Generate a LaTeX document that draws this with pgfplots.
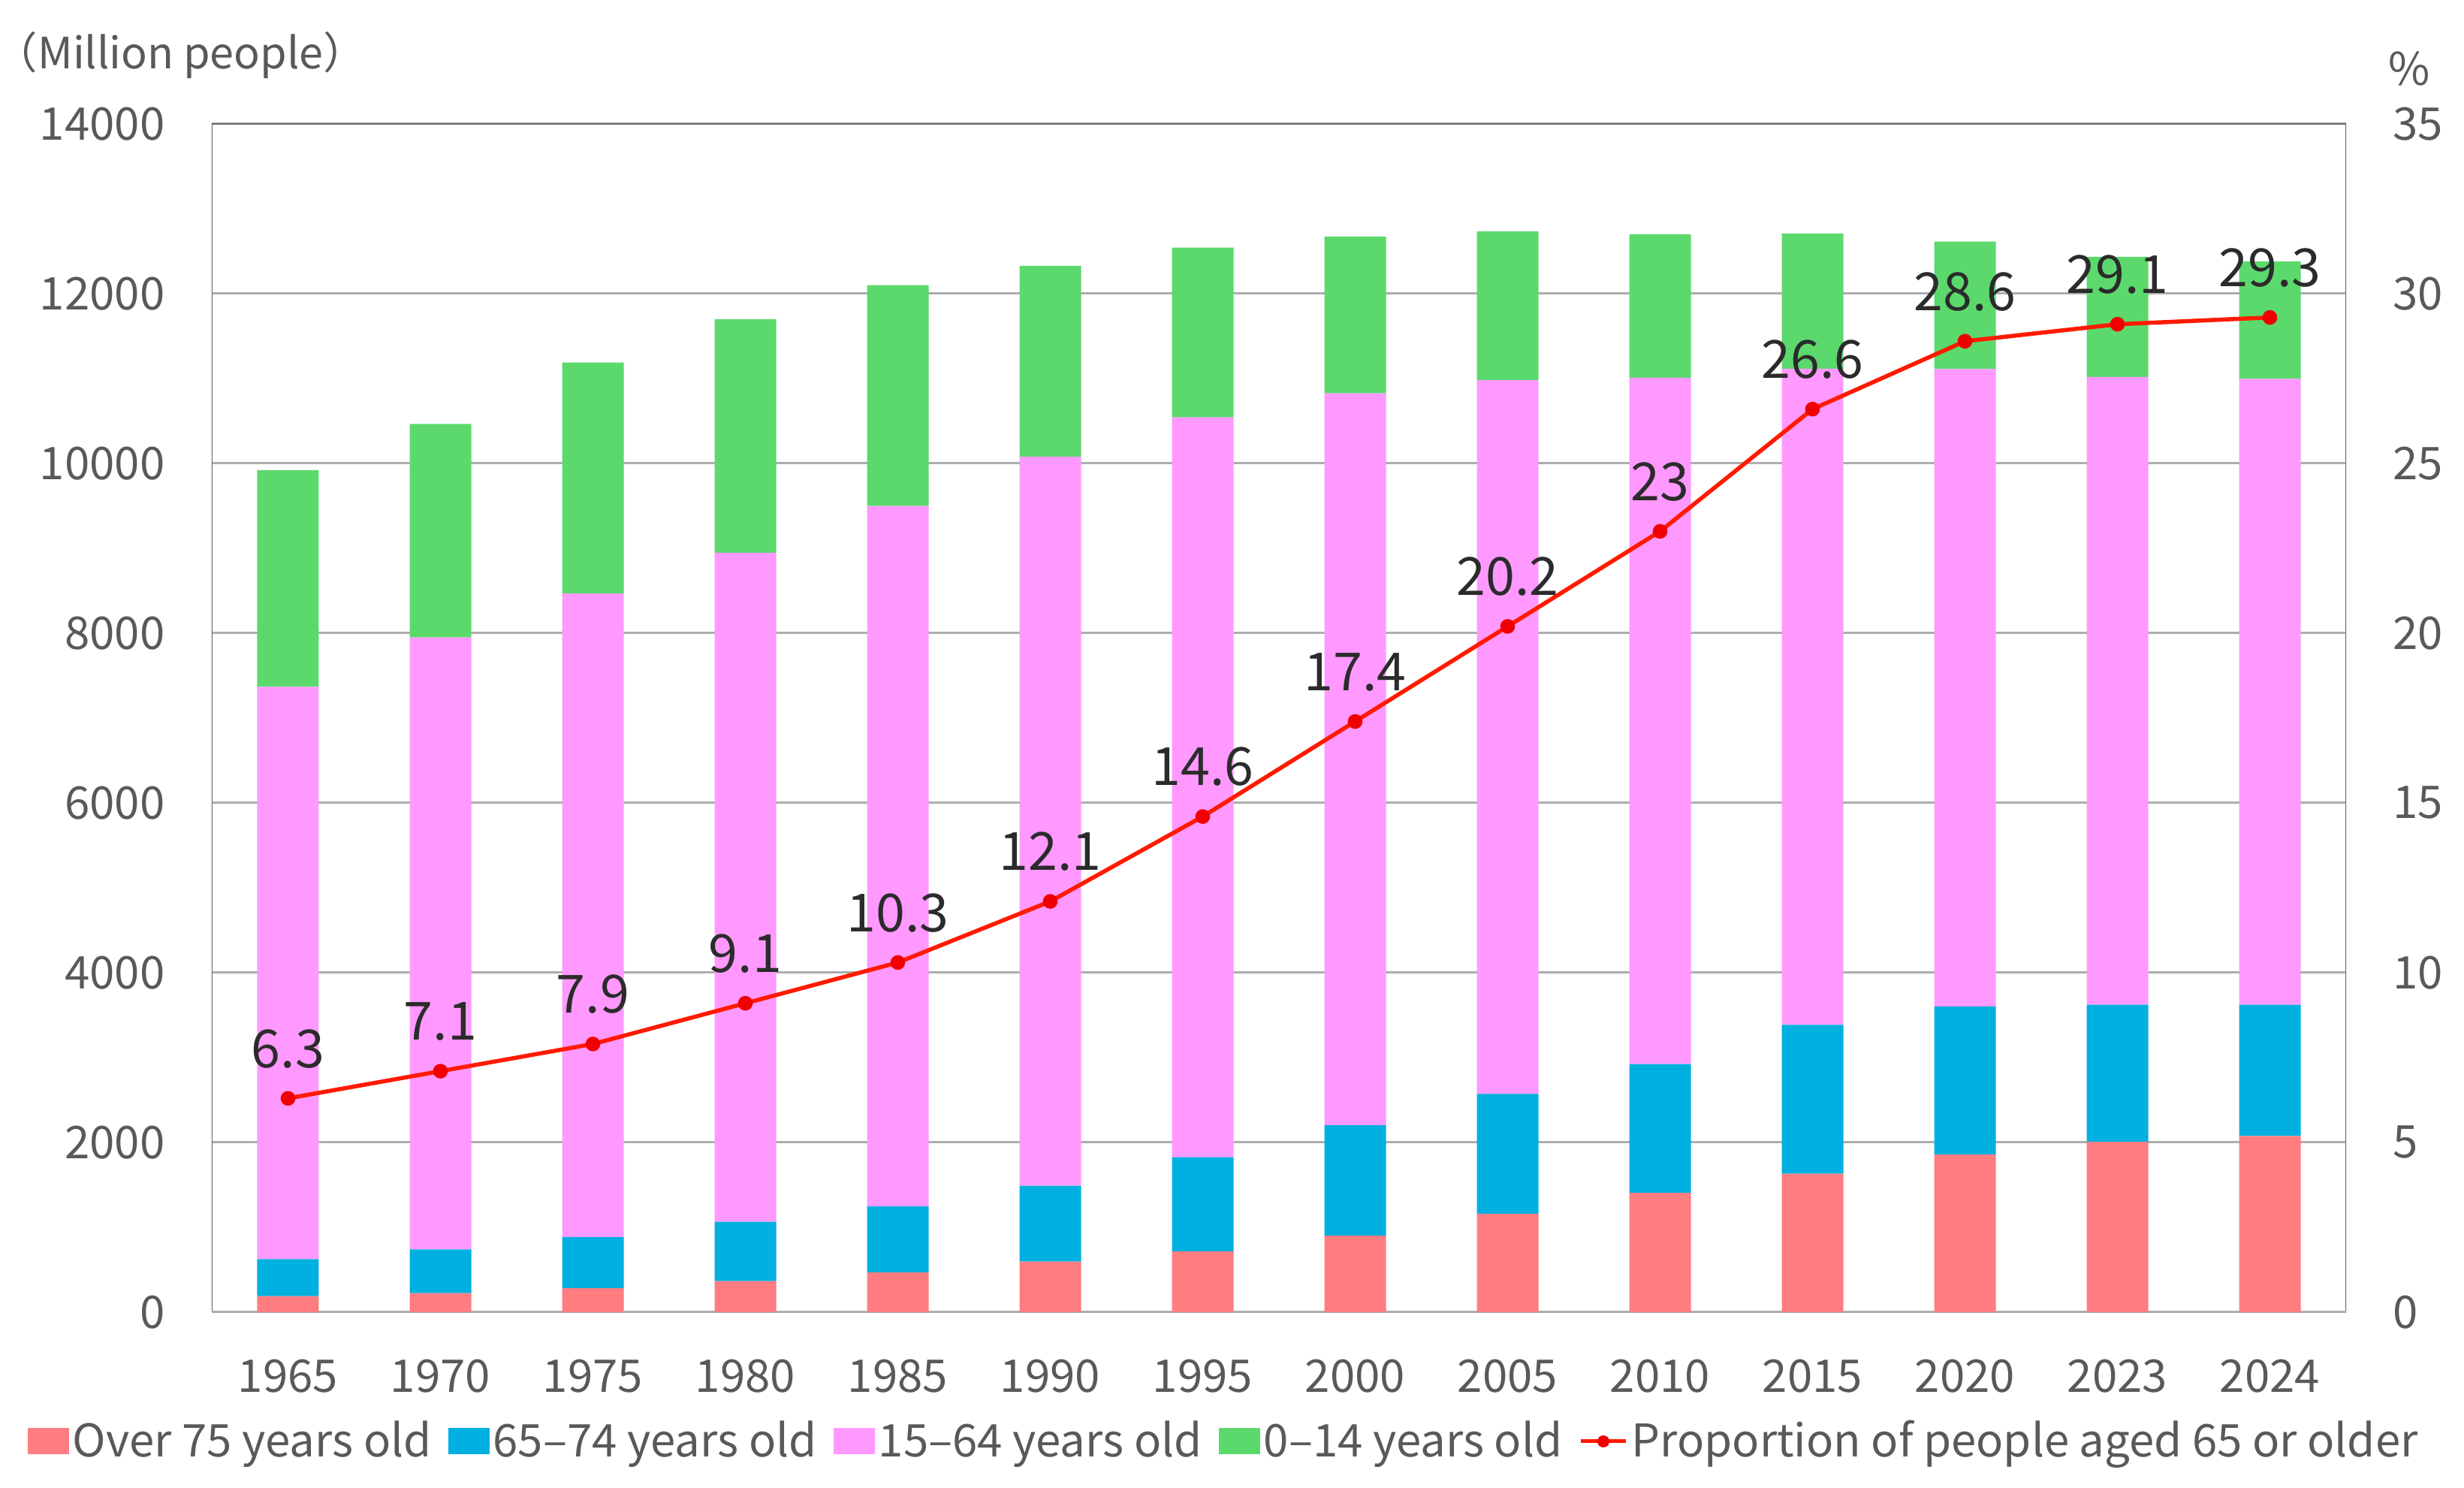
\documentclass[border=0pt]{standalone}
\usepackage{fontspec}
\setmainfont{Noto Sans CJK JP}
\usepackage{pgfplots}
\usepackage{pgfplotstable}
\pgfplotsset{compat=1.18}
\definecolor{cOld}{HTML}{FF7C80}
\definecolor{cMid}{HTML}{00B0E0}
\definecolor{cWork}{HTML}{FF99FF}
\definecolor{cKid}{HTML}{5CD96C}
\definecolor{cLine}{HTML}{FF1A00}
\definecolor{cDot}{HTML}{F00000}
\definecolor{cGrid}{HTML}{ADADAD}
\definecolor{cAxis}{HTML}{6A6A6A}
\definecolor{cText}{HTML}{595959}
\definecolor{cDark}{HTML}{2B2B2B}

\pgfplotstableread{
x  old  mid  work  kid   pct
0  189  435  6744  2553  6.3
1  224  515  7212  2515  7.1
2  284  603  7581  2722  7.9
3  366  699  7883  2751  9.1
4  471  776  8251  2603  10.3
5  597  892  8590  2249  12.1
6  717  1109 8716  2001  14.6
7  901  1303 8622  1847  17.4
8  1160 1412 8409  1752  20.2
9  1407 1517 8085  1690  23
10 1632 1755 7728  1595  26.6
11 1860 1742 7509  1503  28.6
12 2008 1615 7395  1417  29.1
13 2076 1547 7373  1383  29.3
}\datatable

\begin{document}
\begin{tikzpicture}
\useasboundingbox (-56.4pt,-46.8pt) rectangle (599.8pt,349.4pt);
\begin{axis}[
  at={(0,0)}, anchor=south west,
  scale only axis, width=568.4pt, height=316.4pt,
  xmin=-0.5, xmax=13.5, ymin=0, ymax=14000,
  ybar stacked, bar width=16.4pt,
  xtick={0,...,13},
  xticklabels={1965,1970,1975,1980,1985,1990,1995,2000,2005,2010,2015,2020,2023,2024},
  ytick={0,2000,4000,6000,8000,10000,12000,14000},
  yticklabels={0,2000,4000,6000,8000,10000,12000,14000},
  scaled y ticks=false,
  /pgf/number format/assume math mode=true,
  ymajorgrids, grid style={cGrid, line width=0.6pt},
  major tick length=0pt,
  axis line style={draw=none},
  tick label style={font=\fontsize{12}{14}\selectfont, text=cText},
  yticklabel style={xshift=-9pt},
  xticklabel style={yshift=-9pt},
  legend columns=-1,
  legend style={draw=none, fill=none, inner sep=0pt,
    at={(-0.0866,-0.1087)}, anchor=west,
    font=\fontsize{12}{14}\selectfont, text=cText,
    nodes={inner sep=1pt},
    /tikz/every even column/.append style={column sep=3.4pt}},
]
\addplot[fill=cOld, draw=none, legend image code/.code={\fill[cOld] (0pt,-3.5pt) rectangle (11pt,3.5pt);}] table[x=x, y=old] {\datatable};
\addlegendentry{Over 75 years old}
\addplot[fill=cMid, draw=none, legend image code/.code={\fill[cMid] (0pt,-3.5pt) rectangle (11pt,3.5pt);}] table[x=x, y=mid] {\datatable};
\addlegendentry{65–74 years old}
\addplot[fill=cWork, draw=none, legend image code/.code={\fill[cWork] (0pt,-3.5pt) rectangle (11pt,3.5pt);}] table[x=x, y=work] {\datatable};
\addlegendentry{15–64 years old}
\addplot[fill=cKid, draw=none, legend image code/.code={\fill[cKid] (0pt,-3.5pt) rectangle (11pt,3.5pt);}] table[x=x, y=kid] {\datatable};
\addlegendentry{0–14 years old}
\addlegendimage{legend image code/.code={\draw[cLine, line width=1pt] (0pt,0pt) -- (12pt,0pt); \fill[cDot] (6pt,0pt) circle (1.4pt);}}
\addlegendentry{Proportion of people aged 65 or older}
\draw[cGrid, line width=0.6pt] (rel axis cs:0,0) -- (rel axis cs:1,0);
\draw[cAxis, line width=0.6pt] (rel axis cs:0,0) -- (rel axis cs:0,1) -- (rel axis cs:1,1) -- (rel axis cs:1,0);
\end{axis}
\begin{axis}[
  at={(0,0)}, anchor=south west,
  scale only axis, width=568.4pt, height=316.4pt,
  xmin=-0.5, xmax=13.5, ymin=0, ymax=35,
  axis x line=none, axis y line*=right,
  axis line style={draw=none},
  ytick={0,5,...,35},
  /pgf/number format/assume math mode=true,
  major tick length=0pt,
  tick label style={font=\fontsize{12}{14}\selectfont, text=cText},
  yticklabel style={xshift=9pt},
  clip=false,
]
\addplot[cLine, line width=1.1pt, mark=*, mark size=1.4pt, mark options={fill=cDot, draw=cDot},
  point meta=explicit symbolic, nodes near coords,
  every node near coord/.append style={font=\fontsize{14}{16}\selectfont, text=cDark, anchor=south, inner sep=0pt, yshift=7.5pt}]
  table[x=x, y=pct, meta=pct] {\datatable};
\end{axis}
\node[anchor=west, inner sep=0pt, font=\fontsize{11.5}{13}\selectfont, text=cText] at (-58pt,334.8pt) {（Million people）};
\node[inner sep=0pt, font=\fontsize{12}{14}\selectfont, text=cText] at (585.2pt,331pt) {\%};
\end{tikzpicture}
\end{document}
